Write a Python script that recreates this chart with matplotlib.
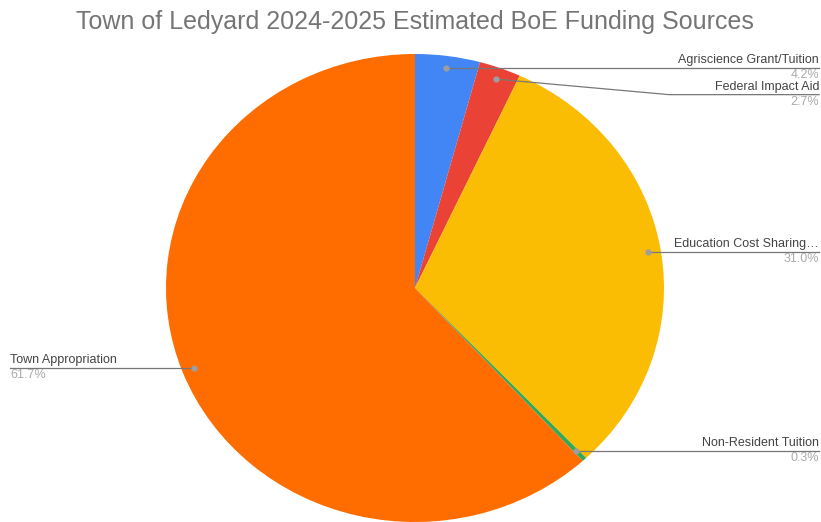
import numpy as np
import matplotlib.pyplot as plt

plt.rcParams['font.family'] = ['Liberation Sans', 'DejaVu Sans']

# data
labels = ['Agriscience Grant/Tuition', 'Federal Impact Aid', 'Education Cost Sharing\u2026',
          'Non-Resident Tuition', 'Town Appropriation']
shares = [4.2, 2.7, 31.0, 0.3, 61.7]
colors = ['#4285F4', '#EA4335', '#FBBC04', '#34A853', '#FF6D01']
title = 'Town of Ledyard 2024-2025 Estimated BoE Funding Sources'

W, H = 821, 522
fig = plt.figure(figsize=(W / 100, H / 100), dpi=100)
fig.patch.set_facecolor('white')

# pie is slightly stretched horizontally in the original
cx, cy, rx, ry = 415, 288, 249, 234
ax = fig.add_axes([(cx - rx) / W, (H - cy - ry) / H, 2 * rx / W, 2 * ry / H])
wedges, _ = ax.pie(shares, colors=colors, startangle=90, counterclock=False,
                   radius=1, wedgeprops=dict(linewidth=0))
ax.set_aspect('auto')
ax.set_xlim(-1, 1)
ax.set_ylim(-1, 1)
ax.axis('off')

fig.text(cx / W, 1 - 22 / H, title, ha='center', va='center', fontsize=18, color='#757575')

# leader lines + labels
x_right = (W - 2 - cx) / rx
x_left = (10 - cx) / rx
gap = 27 / ry
prev_right_y = None
line_col = '#9e9e9e'
for w, lab, val in zip(wedges, labels, shares):
    mid = np.deg2rad((w.theta1 + w.theta2) / 2)
    px, py = 0.95 * np.cos(mid), 0.95 * np.sin(mid)
    ax.plot([px], [py], 'o', ms=3.5, color=line_col, clip_on=False, zorder=5)
    if px >= 0:
        ly = py
        if prev_right_y is not None and ly > prev_right_y - gap:
            ly = prev_right_y - gap
        prev_right_y = ly
        if ly != py:
            ax.plot([px, 1.02, x_right], [py, ly, ly], color='#777777', lw=0.9, clip_on=False)
        else:
            ax.plot([px, x_right], [py, ly], color='#777777', lw=0.9, clip_on=False)
        tx, ha = x_right, 'right'
    else:
        ly = py
        ax.plot([x_left, px], [ly, ly], color='#777777', lw=0.9, clip_on=False)
        tx, ha = x_left, 'left'
    ax.text(tx, ly + 2 / ry, lab, ha=ha, va='bottom', fontsize=9, color='#444444')
    ax.text(tx, ly - 1 / ry, f'{val:.1f}%', ha=ha, va='top', fontsize=9, color='#aaaaaa')

fig.savefig('out.png', dpi=100, facecolor='white')
